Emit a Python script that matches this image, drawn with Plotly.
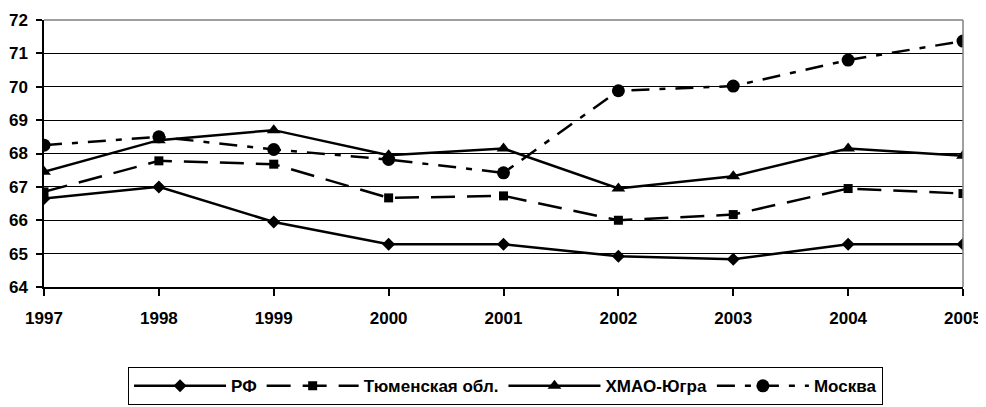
import plotly.graph_objects as go

years = [1997, 1998, 1999, 2000, 2001, 2002, 2003, 2004, 2005]
rf = [66.65, 67.0, 65.95, 65.28, 65.28, 64.92, 64.83, 65.28, 65.28]
tyumen = [66.85, 67.78, 67.68, 66.67, 66.73, 66.0, 66.17, 66.95, 66.8]
hmao = [67.45, 68.4, 68.7, 67.95, 68.15, 66.95, 67.32, 68.15, 67.93]
moscow = [68.25, 68.5, 68.12, 67.82, 67.42, 69.88, 70.02, 70.8, 71.37]

names = ["РФ", "Тюменская обл.", "ХМАО-Югра", "Москва"]

fam = "Liberation Sans, Arial, sans-serif"

fig = go.Figure()
fig.add_trace(go.Scatter(x=years, y=rf, name=names[0], mode="lines+markers",
                         line=dict(color="black", width=2.5),
                         marker=dict(symbol="diamond", size=10, color="black")))
fig.add_trace(go.Scatter(x=years, y=tyumen, name=names[1], mode="lines+markers",
                         line=dict(color="black", width=2.5, dash="24px,12px"),
                         marker=dict(symbol="square", size=9, color="black")))
fig.add_trace(go.Scatter(x=years, y=hmao, name=names[2], mode="lines+markers",
                         line=dict(color="black", width=2.5),
                         marker=dict(symbol="triangle-up", size=12, color="black")))
fig.add_trace(go.Scatter(x=years, y=moscow, name=names[3], mode="lines+markers",
                         line=dict(color="black", width=2.5, dash="18px,10px,6px,10px"),
                         marker=dict(symbol="circle", size=13, color="black")))

fig.update_layout(
    width=978, height=399,
    margin=dict(l=36, r=23, t=12, b=120, autoexpand=False),
    paper_bgcolor="white", plot_bgcolor="white",
    font=dict(family=fam, size=16, color="black"),
    showlegend=True,
    legend=dict(orientation="h", x=0.502, xanchor="center", y=-0.30, yanchor="top",
                bordercolor="black", borderwidth=1.2,
                font=dict(family=fam, size=17, color="black", weight="bold"),
                itemwidth=92, tracegroupgap=0),
    xaxis=dict(range=[1997, 2005], tickmode="array", tickvals=years,
               ticktext=[f"<b>{y}</b>" for y in years], automargin=False,
               showgrid=False, zeroline=False, showline=True, linecolor="black", linewidth=1.5,
               ticks="outside", ticklen=7, tickcolor="black", tickwidth=1.5,
               ticklabelstandoff=8,
               tickfont=dict(family=fam, size=17, color="black")),
    yaxis=dict(range=[64, 72], dtick=1, tickmode="linear", automargin=False,
               showgrid=True, gridcolor="black", gridwidth=1.2, zeroline=False,
               showline=True, linecolor="black", linewidth=1.5,
               ticks="outside", ticklen=6, tickcolor="black", tickwidth=1.5,
               tickprefix="<b>", ticksuffix="</b>", ticklabelstandoff=5,
               tickfont=dict(family=fam, size=17, color="black")),
    shapes=[
        dict(type="line", xref="paper", yref="paper", x0=0, x1=1, y0=1, y1=1,
             line=dict(color="gray", width=1.5)),
        dict(type="line", xref="paper", yref="paper", x0=1, x1=1, y0=0, y1=1,
             line=dict(color="gray", width=1.5)),
    ],
)

fig.write_html("out.html")
